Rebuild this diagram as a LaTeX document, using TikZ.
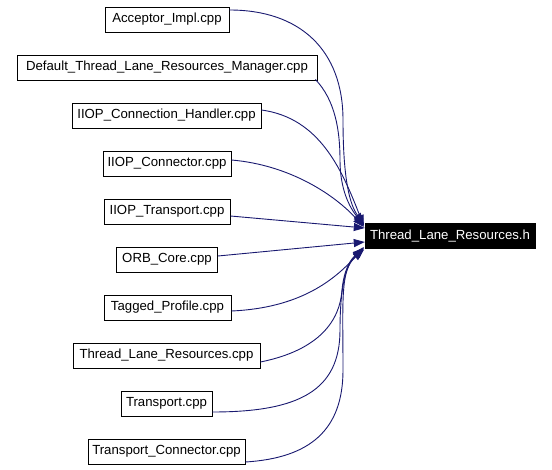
\documentclass[tikz,border=0pt]{standalone}
\usepackage{fontspec}
\setmainfont{Liberation Sans}
\usetikzlibrary{arrows.meta,calc}
\definecolor{edgeblue}{HTML}{191970}
\begin{document}
\begin{tikzpicture}[x=1pt,y=-1pt,
  filebox/.style={draw=black,line width=0.9pt,fill=white,minimum height=25pt,inner xsep=2pt,inner ysep=0pt,font=\fontsize{13.2}{15}\selectfont,text=black},
  headbox/.style={draw=black,fill=black,minimum height=25pt,inner xsep=2pt,inner ysep=0pt,font=\fontsize{13.2}{15}\selectfont,text=white},
  dep/.style={draw=edgeblue,line width=0.9pt,-{Triangle[length=11pt,width=8pt]},shorten >=0pt}]
\useasboundingbox (0,0) rectangle (552,470);
\node[headbox,minimum width=170pt] (t) at (450,236) {Thread\_Lane\_Resources.h};
\node[filebox,minimum width=124pt] (a) at (167,19.5) {Acceptor\_Impl.cpp};
\node[filebox,minimum width=300pt] (b) at (167,67.5) {Default\_Thread\_Lane\_Resources\_Manager.cpp};
\node[filebox,minimum width=189pt] (c) at (166.5,115.5) {IIOP\_Connection\_Handler.cpp};
\node[filebox,minimum width=128pt] (d) at (167,163.5) {IIOP\_Connector.cpp};
\node[filebox,minimum width=126pt] (e) at (167,211.5) {IIOP\_Transport.cpp};
\node[filebox,minimum width=101pt] (f) at (167,259.5) {ORB\_Core.cpp};
\node[filebox,minimum width=127pt] (g) at (167.5,307.5) {Tagged\_Profile.cpp};
\node[filebox,minimum width=187pt] (h) at (166.5,355.5) {Thread\_Lane\_Resources.cpp};
\node[filebox,minimum width=91pt] (i) at (166.5,403.5) {Transport.cpp};
\node[filebox,minimum width=157pt] (j) at (166.5,451.5) {Transport\_Connector.cpp};
% connectors
\draw[dep] ($(a.east)+(0,-9.5)$) .. controls (300,10) and (343,50) .. (343,120) .. controls (343,180) and (350,205) .. ($(t.west)+(-1,-12)$);
\draw[dep] ($(b.east)+(-2,12)$) .. controls (335,100) and (340,130) .. (340,160) .. controls (340,190) and (350,208) .. ($(t.west)+(-1,-11)$);
\draw[dep] ($(c.east)+(0,-5.5)$) .. controls (320,118) and (342,170) .. ($(t.west)+(-1,-10)$);
\draw[dep] ($(d.east)+(0,-3.5)$) .. controls (290,165) and (335,195) .. ($(t.west)+(-1,-9)$);
\draw[dep] ($(e.east)+(0,4.5)$) -- ($(t.west)+(0,-8)$);
\draw[dep] ($(f.east)+(0,-3.5)$) -- ($(t.west)+(0,6)$);
\draw[dep] ($(g.east)+(0,3.5)$) .. controls (300,308) and (335,280) .. ($(t.west)+(-1,11)$);
\draw[dep] ($(h.east)+(0,6.5)$) .. controls (320,350) and (340,320) .. (342,290) .. controls (344,270) and (350,260) .. ($(t.west)+(-1,12)$);
\draw[dep] ($(i.east)+(0,8.5)$) .. controls (300,412) and (340,390) .. (340,330) .. controls (340,280) and (348,262) .. ($(t.west)+(-1,13)$);
\draw[dep] ($(j.east)+(0,10.5)$) .. controls (310,458) and (343,430) .. (343,370) .. controls (343,300) and (340,270) .. ($(t.west)+(-1,14)$);
\end{tikzpicture}
\end{document}
